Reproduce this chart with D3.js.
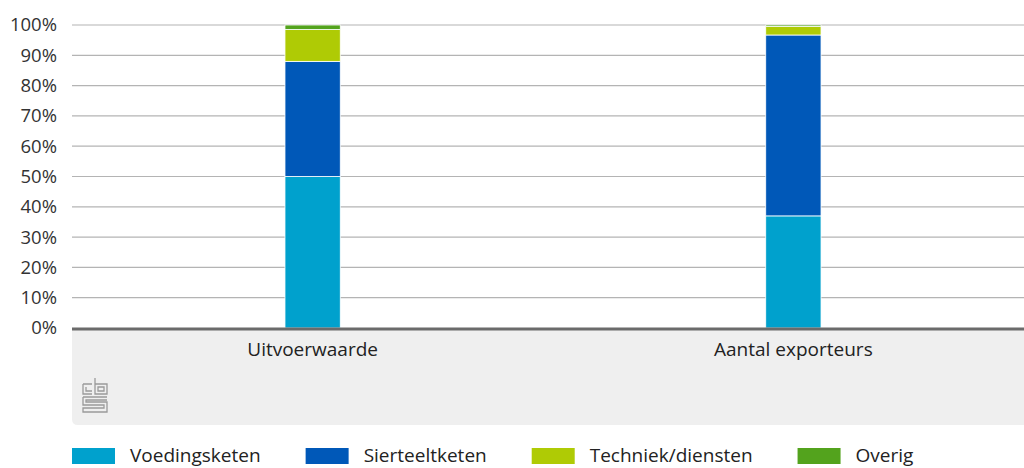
<!DOCTYPE html>
<html>
<head>
<meta charset="utf-8">
<script src="https://cdn.jsdelivr.net/npm/d3@7"></script>
<style>
  body { margin: 0; background: #fff; }
  svg { display: block; font-family: "Open Sans", "Noto Sans", sans-serif; }
</style>
</head>
<body>
<div id="chart"></div>
<script>
// Categories and series (percent share)
const categories = ['Uitvoerwaarde', 'Aantal exporteurs'];
const seriesNames = ['Voedingsketen', 'Sierteeltketen', 'Techniek/diensten', 'Overig'];
const voedingsketen = [50, 37];
const sierteeltketen = [38, 59.7];
const techniekDiensten = [10.5, 2.8];
const overig = [1.5, 0.5];
const yTicks = [0, 10, 20, 30, 40, 50, 60, 70, 80, 90, 100];
const colors = ['#00a1cd', '#0058b8', '#afcb05', '#53a31d'];

const W = 1024, H = 468;
const plotLeft = 72, plotRight = 1024;
const plotTop = 25, plotBottom = 328;

// Build rows for stacking
const rows = categories.map((c, i) => ({
  cat: c,
  'Voedingsketen': voedingsketen[i],
  'Sierteeltketen': sierteeltketen[i],
  'Techniek/diensten': techniekDiensten[i],
  'Overig': overig[i]
}));
const stacked = d3.stack().keys(seriesNames)(rows);

const svg = d3.select('#chart').append('svg')
  .attr('width', W)
  .attr('height', H);

const x = d3.scaleBand()
  .domain(categories)
  .range([plotLeft, plotRight + 10])
  .paddingInner(0.885)
  .paddingOuter(0.443);

const y = d3.scaleLinear()
  .domain([0, 100])
  .range([plotBottom, plotTop]);

// Gray panel below the axis
svg.append('path')
  .attr('d', `M${plotLeft},${plotBottom} H${W} V425 H${plotLeft + 6} Q${plotLeft},425 ${plotLeft},419 Z`)
  .attr('fill', '#efefef');

// Gridlines
svg.append('g')
  .selectAll('line')
  .data(yTicks.filter(d => d > 0))
  .enter()
  .append('line')
  .attr('x1', plotLeft)
  .attr('x2', plotRight)
  .attr('y1', d => y(d))
  .attr('y2', d => y(d))
  .attr('stroke', '#b4b4b4')
  .attr('stroke-width', 1.2);

// Y axis labels
svg.append('g')
  .selectAll('text')
  .data(yTicks)
  .enter()
  .append('text')
  .attr('x', 57)
  .attr('y', d => y(d))
  .attr('dy', '0.35em')
  .attr('text-anchor', 'end')
  .attr('fill', '#333')
  .style('font-size', '18.5px')
  .text(d => d + '%');

// Stacked bars
svg.append('g')
  .selectAll('g')
  .data(stacked)
  .enter()
  .append('g')
  .attr('fill', (d, i) => colors[i])
  .selectAll('rect')
  .data(d => d)
  .enter()
  .append('rect')
  .attr('x', d => x(d.data.cat))
  .attr('width', x.bandwidth())
  .attr('y', d => y(d[1]))
  .attr('height', d => y(d[0]) - y(d[1]))
  .attr('stroke', '#fff')
  .attr('stroke-width', 0.8);

// Baseline
svg.append('line')
  .attr('x1', plotLeft)
  .attr('x2', W)
  .attr('y1', y(0) + 1)
  .attr('y2', y(0) + 1)
  .attr('stroke', '#6b6b6b')
  .attr('stroke-width', 3);

// Category labels
svg.append('g')
  .selectAll('text')
  .data(categories)
  .enter()
  .append('text')
  .attr('x', d => x(d) + x.bandwidth() / 2)
  .attr('y', 356)
  .attr('text-anchor', 'middle')
  .attr('fill', '#222')
  .style('font-size', '19px')
  .text(d => d);

// CBS logo (simplified outline)
const logo = svg.append('g')
  .attr('transform', 'translate(83,378)')
  .attr('fill', 'none')
  .attr('stroke', '#9a9a9a')
  .attr('stroke-width', 1.3);
logo.append('path').attr('d', 'M0,6 H9 M0,6 V16 H9 M3,9 V13 H9');
logo.append('path').attr('d', 'M12,0 V16 H24 V6 H12 M15,9 H21 V13 H15 Z');
logo.append('path').attr('d', 'M0,19 H24 M0,19 V27 H21 V30 H0 V34 H24 V24 H3 V22 H24');

// Legend
const legend = svg.append('g').attr('transform', 'translate(72,448)');
let lx = 0;
seriesNames.forEach((name, i) => {
  const g = legend.append('g').attr('transform', `translate(${lx},0)`);
  g.append('rect')
    .attr('width', 43)
    .attr('height', 16)
    .attr('fill', colors[i]);
  const t = g.append('text')
    .attr('x', 58)
    .attr('y', 14)
    .attr('fill', '#222')
    .style('font-size', '19px')
    .text(name);
  lx += 58 + t.node().getComputedTextLength() + 45;
});
</script>
</body>
</html>
